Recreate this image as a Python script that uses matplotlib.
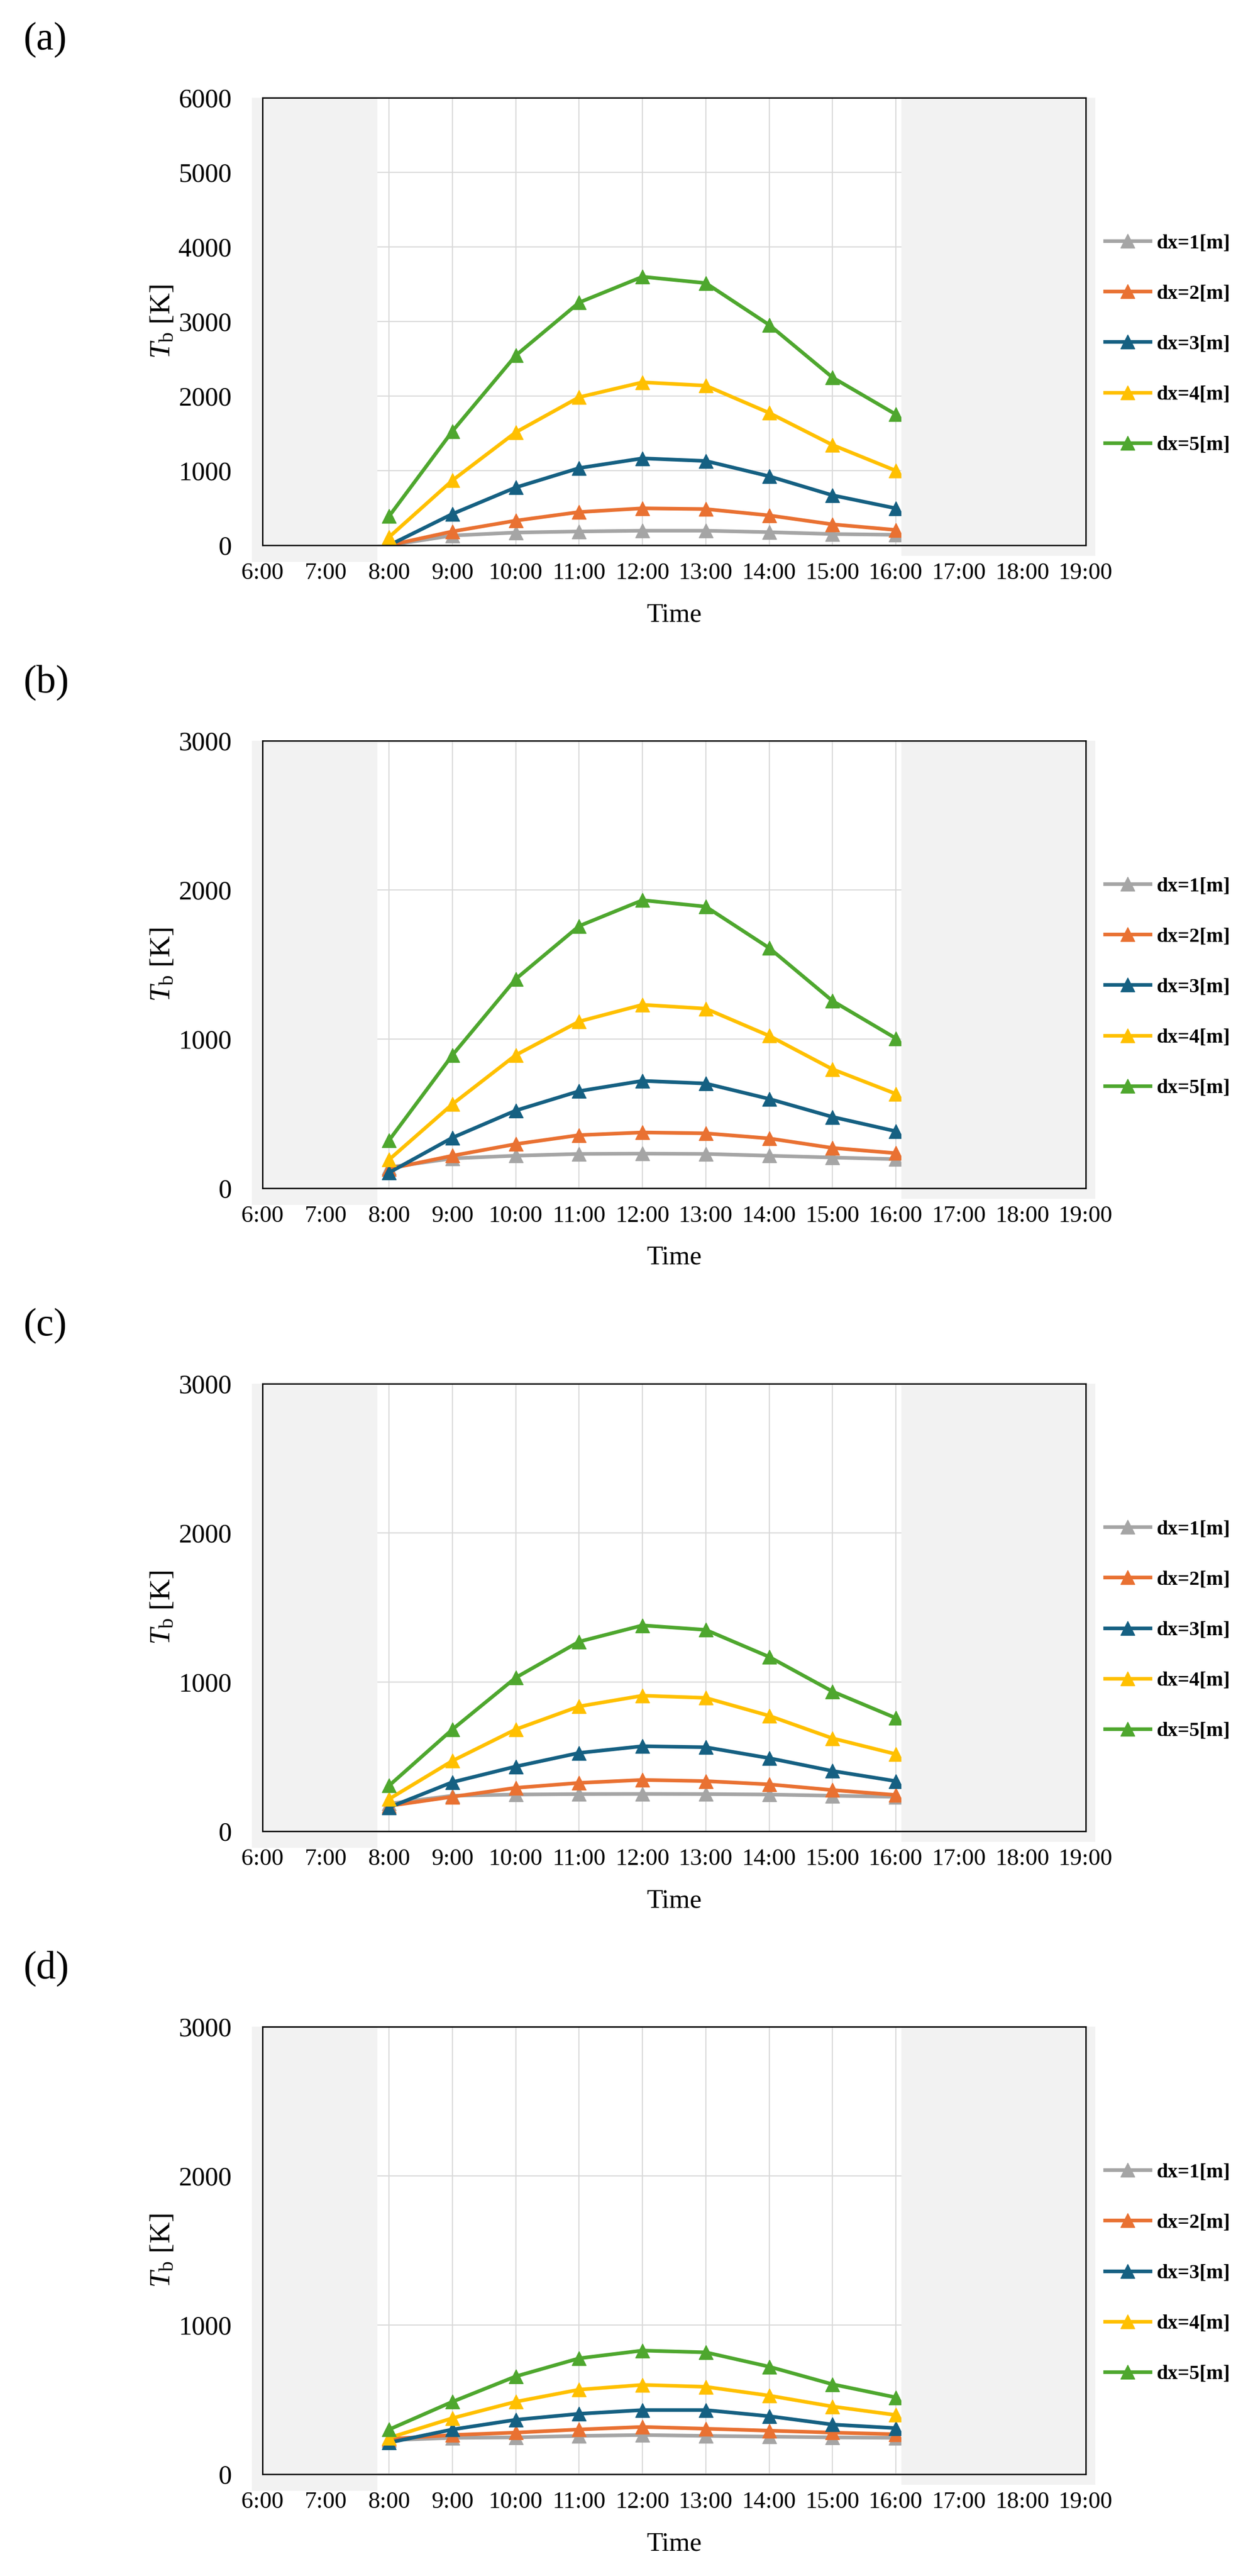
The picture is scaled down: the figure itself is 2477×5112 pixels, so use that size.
import matplotlib
matplotlib.use('Agg')
import matplotlib.pyplot as plt
import matplotlib.transforms as mtransforms
from matplotlib.patches import Rectangle

plt.rcParams['font.family'] = ['Liberation Serif', 'DejaVu Serif']
plt.rcParams['mathtext.fontset'] = 'custom'
plt.rcParams['mathtext.rm'] = 'Liberation Serif'
plt.rcParams['mathtext.it'] = 'Liberation Serif:italic'

# ---------------- data ----------------
times = ['8:00', '9:00', '10:00', '11:00', '12:00', '13:00', '14:00', '15:00', '16:00']
tick_labels = ['6:00', '7:00', '8:00', '9:00', '10:00', '11:00', '12:00',
               '13:00', '14:00', '15:00', '16:00', '17:00', '18:00', '19:00']
series_labels = ['dx=1[m]', 'dx=2[m]', 'dx=3[m]', 'dx=4[m]', 'dx=5[m]']
series_colors = ['#A5A5A5', '#E97132', '#156082', '#FFC000', '#4EA72E']
panel_labels = ['(a)', '(b)', '(c)', '(d)']
panel_ymax = [6000, 3000, 3000, 3000]

a_dx1 = [0, 130, 170, 185, 195, 195, 175, 150, 140]
a_dx2 = [0, 185, 330, 445, 495, 485, 400, 280, 205]
a_dx3 = [0, 420, 775, 1035, 1165, 1130, 925, 670, 495]
a_dx4 = [110, 870, 1515, 1985, 2185, 2140, 1775, 1345, 1000]
a_dx5 = [390, 1530, 2545, 3255, 3600, 3515, 2955, 2250, 1755]

b_dx1 = [140, 200, 218, 230, 232, 230, 218, 206, 195]
b_dx2 = [130, 218, 296, 356, 374, 368, 334, 270, 235]
b_dx3 = [105, 339, 521, 651, 720, 702, 599, 478, 382]
b_dx4 = [192, 564, 893, 1118, 1230, 1204, 1022, 798, 633]
b_dx5 = [322, 893, 1403, 1758, 1931, 1888, 1611, 1256, 1005]

c_dx1 = [185, 238, 246, 249, 250, 249, 246, 238, 231]
c_dx2 = [170, 231, 291, 324, 344, 336, 314, 276, 243]
c_dx3 = [160, 329, 434, 525, 570, 563, 490, 404, 336]
c_dx4 = [216, 472, 683, 837, 909, 894, 774, 623, 517]
c_dx5 = [306, 683, 1030, 1271, 1380, 1350, 1169, 937, 759]

d_dx1 = [228, 244, 247, 257, 263, 257, 252, 247, 244]
d_dx2 = [236, 263, 279, 300, 317, 305, 292, 279, 268]
d_dx3 = [212, 300, 365, 405, 430, 430, 389, 333, 309]
d_dx4 = [244, 376, 486, 567, 599, 586, 527, 454, 397]
d_dx5 = [300, 486, 656, 777, 829, 817, 721, 603, 515]

panels = [
    [a_dx1, a_dx2, a_dx3, a_dx4, a_dx5],
    [b_dx1, b_dx2, b_dx3, b_dx4, b_dx5],
    [c_dx1, c_dx2, c_dx3, c_dx4, c_dx5],
    [d_dx1, d_dx2, d_dx3, d_dx4, d_dx5],
]


def to_hours(label):
    h, m = label.split(':')
    return int(h) + int(m) / 60.0


x_vals = [to_hours(t) for t in times]
tick_pos = [to_hours(t) for t in tick_labels]

# ---------------- layout (pixels) ----------------
W, H = 2477, 5112
DPI = 100
fig = plt.figure(figsize=(W / DPI, H / DPI), dpi=DPI)
fig.patch.set_facecolor('white')

ax_left, ax_right = 521, 2155
ax_h = 888
bottoms = [1082, 2358, 3634, 4910]

shade_color = '#F2F2F2'
grid_color = '#D9D9D9'

for i, (series, ymax, plabel) in enumerate(zip(panels, panel_ymax, panel_labels)):
    bot = bottoms[i]
    top = bot - ax_h
    ax = fig.add_axes([ax_left / W, 1 - bot / H, (ax_right - ax_left) / W, ax_h / H])
    ax.set_facecolor('white')
    ax.set_xlim(tick_pos[0], tick_pos[-1])
    ax.set_ylim(0, ymax)
    ax.set_xticks(tick_pos)
    ax.set_xticklabels(tick_labels)
    ax.set_yticks(range(0, ymax + 1, 1000))
    ax.tick_params(axis='both', length=0)
    ax.tick_params(axis='x', pad=25, labelsize=34)
    ax.tick_params(axis='y', pad=44, labelsize=38)
    ax.set_axisbelow(True)
    ax.grid(True, color=grid_color, linewidth=1.6)

    for vals, lab, col in zip(series, series_labels, series_colors):
        ax.plot(x_vals, vals, color=col, linewidth=5.2, marker='^', markersize=20,
                markerfacecolor=col, markeredgecolor=col, label=lab, zorder=2,
                solid_joinstyle='round')

    # grey shaded (non-daylight) regions, drawn over grid
    px_per_h = (ax_right - ax_left) / (tick_pos[-1] - tick_pos[0])
    trans = mtransforms.blended_transform_factory(ax.transData, ax.transAxes)
    lx0 = tick_pos[0] - 21 / px_per_h
    lx1 = 7.815
    ax.add_patch(Rectangle((lx0, -33 / ax_h), lx1 - lx0, 1 + 33 / ax_h, transform=trans,
                           facecolor=shade_color, edgecolor='none', zorder=2.5, clip_on=False))
    rx0 = 16.09
    rx1 = tick_pos[-1] + 19 / px_per_h
    ax.add_patch(Rectangle((rx0, -21 / ax_h), rx1 - rx0, 1 + 21 / ax_h, transform=trans,
                           facecolor=shade_color, edgecolor='none', zorder=2.5, clip_on=False))

    for sp in ax.spines.values():
        sp.set_color('black')
        sp.set_linewidth(2.0)
        sp.set_zorder(3)

    ax.set_xlabel('Time', fontsize=38)
    ax.xaxis.set_label_coords(0.5, -138 / ax_h)
    ax.xaxis.label.set_va('center')
    ax.set_ylabel(r'$T_{\mathrm{b}}$ [K]', fontsize=42)
    ax.yaxis.set_label_coords((323 - ax_left) / (ax_right - ax_left), 0.5)
    ax.yaxis.label.set_va('center')
    ax.yaxis.label.set_ha('center')

    ax.legend(loc='center left',
              bbox_to_anchor=((2193 - ax_left) / (ax_right - ax_left), (bot - (top + 489)) / ax_h),
              frameon=False, borderpad=0, borderaxespad=0,
              handlelength=2.23, handletextpad=0.3, labelspacing=1.56,
              prop={'size': 29, 'weight': 'bold'})

    fig.text(47 / W, 1 - (top - 114) / H, plabel, fontsize=56, ha='left', va='center')

fig.savefig('out.png', dpi=DPI)
